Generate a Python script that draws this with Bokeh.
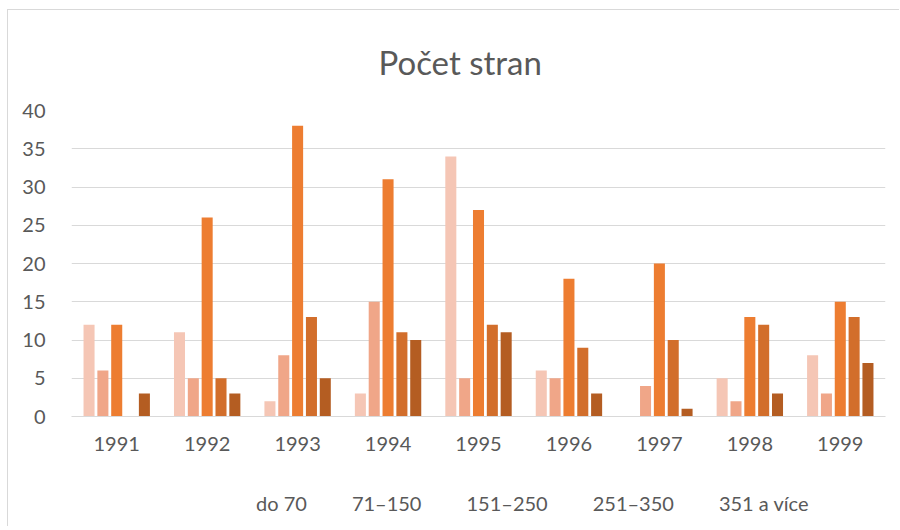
from bokeh.plotting import figure
from bokeh.models import FactorRange, ColumnDataSource, Legend, LegendItem, SingleIntervalTicker, Range1d
from bokeh.layouts import column
from bokeh.transform import dodge
from bokeh.embed import file_html
from bokeh.resources import INLINE

years = ["1991", "1992", "1993", "1994", "1995", "1996", "1997", "1998", "1999"]
series_names = ["do 70", "71\u2013150", "151\u2013250", "251\u2013350", "351 a v\u00edce"]
do70 = [12, 11, 2, 3, 34, 6, 0, 5, 8]
s71_150 = [6, 5, 8, 15, 5, 5, 4, 2, 3]
s151_250 = [12, 26, 38, 31, 27, 18, 20, 13, 15]
s251_350 = [0, 5, 13, 11, 12, 9, 10, 12, 13]
s351 = [3, 3, 5, 10, 11, 3, 1, 3, 7]
colors = ["#F5C6B5", "#F0A688", "#ED7D31", "#D26E2B", "#B45D22"]
title_text = "Po\u010det stran"

FONT = "Lato"
GREY = "#595959"

src = ColumnDataSource(dict(year=years, s0=do70, s1=s71_150, s2=s151_250, s3=s251_350, s4=s351))

p = figure(x_range=FactorRange(*years), y_range=(0, 40), width=891, height=456,
           output_backend="svg", toolbar_location=None,
           min_border_left=63, min_border_right=14, min_border_top=98, min_border_bottom=50,
           title=title_text)

p.title.align = "left"
p.title.offset = 307
p.title.standoff = 58
p.title.text_font = FONT
p.title.text_font_size = "33px"
p.title.text_font_style = "normal"
p.title.text_color = GREY

step = 0.153
w = 0.122
for i in range(5):
    p.vbar(x=dodge("year", (i - 2) * step, range=p.x_range), top="s%d" % i, width=w,
           source=src, fill_color=colors[i], line_color=None)

p.outline_line_color = None
p.background_fill_color = "white"
p.border_fill_color = "white"

p.xgrid.grid_line_color = None
p.ygrid.grid_line_color = "#d9d9d9"
p.ygrid.grid_line_width = 1
p.yaxis.ticker = SingleIntervalTicker(interval=5)
p.yaxis.axis_line_color = None
p.yaxis.major_tick_line_color = None
p.yaxis.minor_tick_line_color = None
p.yaxis.major_tick_out = 0
p.yaxis.major_label_text_font = FONT
p.yaxis.major_label_text_font_size = "20px"
p.yaxis.major_label_text_color = GREY
p.yaxis.major_label_standoff = 22

p.xaxis.axis_line_color = "#d9d9d9"
p.xaxis.major_tick_line_color = None
p.xaxis.minor_tick_line_color = None
p.xaxis.major_label_text_font = FONT
p.xaxis.major_label_text_font_size = "20px"
p.xaxis.major_label_text_color = GREY
p.xaxis.major_label_standoff = 14

# legend strip as a separate figure below the chart
p2 = figure(width=891, height=60, x_range=Range1d(0, 1), y_range=Range1d(0, 1),
            output_backend="svg", toolbar_location=None,
            min_border_left=0, min_border_right=0, min_border_top=0, min_border_bottom=0)
p2.axis.visible = False
p2.grid.grid_line_color = None
p2.outline_line_color = None
p2.background_fill_color = "white"
p2.border_fill_color = "white"

items = []
for i in range(5):
    r = p2.vbar(x=[], top=[], width=0.1, fill_color=colors[i], line_color=None)
    items.append(LegendItem(label=series_names[i], renderers=[r]))

legend = Legend(items=items, orientation="horizontal", location=(168, 11),
                label_text_font=FONT, label_text_font_size="20px", label_text_color=GREY,
                glyph_width=12, glyph_height=12, spacing=28, label_standoff=5,
                border_line_color=None, background_fill_alpha=0, margin=0, padding=4)
p2.add_layout(legend, "center")

layout = column(p, p2, spacing=0)
layout.styles = {"border-top": "1px solid #d9d9d9", "border-left": "1px solid #d9d9d9",
                 "margin-top": "9px", "margin-left": "7px"}

open("out.html", "w").write(file_html(layout, INLINE))
